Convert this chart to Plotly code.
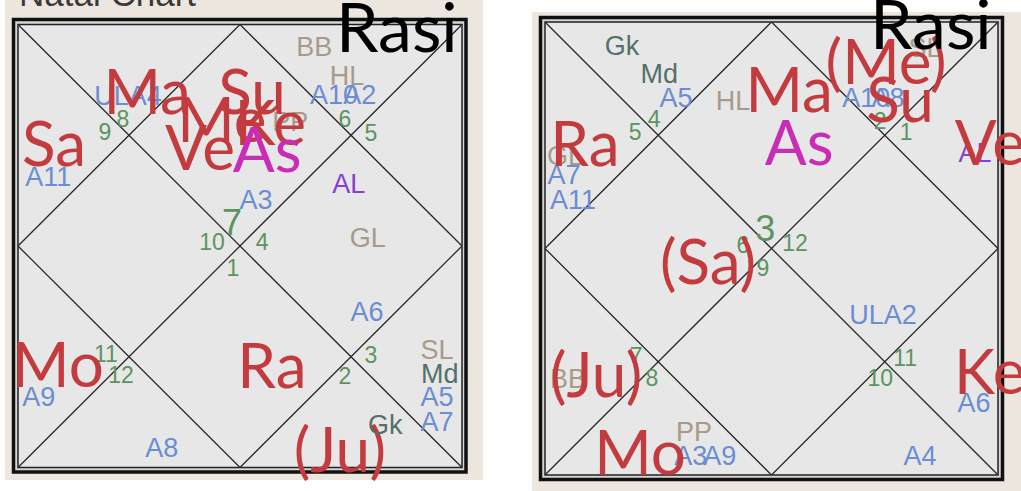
import plotly.graph_objects as go

W, H = 1021, 491

# ---------------- data: left chart (Natal / Rasi) ----------------
L_PLANETS = ["Ma", "Su", "Me", "Ke", "Ve", "Sa", "Mo", "Ra", "(Ju)"]
L_PLANETS_U = [29.1, 52.7, 45.9, 56.8, 41.0, 8.1, 9.0, 57.2, 72.5]
L_PLANETS_V = [15.2, 15.2, 21.6, 22.2, 27.9, 27.0, 76.9, 77.1, 96.1]

L_LAGNA = ["As"]
L_LAGNA_U = [56.1]
L_LAGNA_V = [28.3]

L_ARUDHA = ["ULA4", "A11", "A10", "A2", "A3", "A6", "A9", "A5", "A7", "A8"]
L_ARUDHA_U = [24.8, 6.8, 71.2, 77.0, 53.6, 78.6, 4.7, 94.4, 94.4, 32.4]
L_ARUDHA_V = [16.1, 34.4, 15.9, 15.9, 39.6, 64.7, 84.1, 84.1, 89.7, 95.6]

L_SPECIAL = ["PP", "BB", "HL", "GL", "SL"]
L_SPECIAL_U = [61.3, 66.7, 74.1, 78.8, 94.4]
L_SPECIAL_V = [22.0, 4.9, 11.6, 48.0, 73.3]

L_AL = ["AL"]
L_AL_U = [74.5]
L_AL_V = [36.0]

L_UPA = ["Md", "Gk"]
L_UPA_U = [95.0, 82.7]
L_UPA_V = [78.7, 90.4]

L_HOUSE = ["8", "9", "6", "5", "10", "4", "1", "11", "12", "3", "2"]
L_HOUSE_U = [23.6, 19.6, 73.6, 79.5, 43.7, 55.0, 48.4, 19.8, 23.2, 79.5, 73.6]
L_HOUSE_V = [21.3, 24.3, 21.3, 24.5, 49.1, 49.1, 55.0, 74.4, 79.1, 74.6, 79.3]
L_ASC_SIGN = ["7"]
L_ASC_U = [48.2]
L_ASC_V = [45.0]

# ---------------- data: right chart ----------------
R_PLANETS = ["(Me)", "Su", "Ma", "Ra", "Ve", "(Sa)", "(Ju)", "Ke", "Mo"]
R_PLANETS_U = [75.3, 78.4, 53.9, 8.8, 98.2, 36.0, 11.3, 98.2, 21.0]
R_PLANETS_V = [8.8, 17.2, 15.0, 26.9, 26.7, 53.0, 77.9, 77.3, 95.1]

R_LAGNA = ["As"]
R_LAGNA_U = [56.1]
R_LAGNA_V = [26.7]

R_ARUDHA = ["A5", "A10", "A8", "A7", "A11", "ULA2", "A6", "A3", "A9", "A4"]
R_ARUDHA_U = [28.9, 70.9, 75.7, 4.2, 6.2, 74.6, 94.7, 32.2, 38.6, 82.8]
R_ARUDHA_V = [16.6, 16.6, 16.6, 33.6, 39.1, 64.5, 84.1, 95.6, 95.6, 95.6]

R_SPECIAL = ["SL", "HL", "GL", "BB", "PP"]
R_SPECIAL_U = [83.9, 41.5, 4.4, 5.1, 32.9]
R_SPECIAL_V = [5.7, 17.4, 29.4, 78.6, 90.5]

R_AL = ["AL"]
R_AL_U = [94.9]
R_AL_V = [28.9]

R_UPA = ["Gk", "Md"]
R_UPA_U = [17.0, 25.2]
R_UPA_V = [5.1, 11.3]

R_HOUSE = ["2", "1", "5", "4", "6", "12", "9", "11", "10", "7", "8"]
R_HOUSE_U = [74.0, 79.7, 19.9, 24.1, 43.7, 55.2, 48.1, 79.5, 74.0, 20.1, 23.6]
R_HOUSE_V = [21.9, 24.3, 24.3, 21.4, 49.2, 48.8, 54.3, 74.2, 78.6, 73.7, 78.6]
R_ASC_SIGN = ["3"]
R_ASC_U = [48.6]
R_ASC_V = [45.9]

TITLE = "Natal Chart"
CHART_NAME = "Rasi"

# ---------------- styles ----------------
RED = "#c33b3f"
MAGENTA = "#c92db5"
BLUE = "#6b8dd2"
TAN = "#a89a8b"
PURPLE = "#8840d0"
SLATE = "#55706a"
GREEN = "#5b9460"
LINE = "#2a2a2a"
BEIGE = "#ede6de"
BOX = "#e7e7e7"

BIG_FONT = "Lato, Arial, sans-serif"
SANS = "Arial, Liberation Sans, sans-serif"


def px(x):
    return x / W


def py(y):
    return 1 - y / H


fig = go.Figure()

# chart boxes (pixel geometry of the inner square)
boxes = {
    "left": dict(x0=18, y0=24.5, x1=462, y1=467.5, ox0=13.5, oy0=19.5, ox1=466, oy1=472),
    "right": dict(x0=545, y0=22, x1=998, y1=475, ox0=540.5, oy0=17.5, ox1=1002.5, oy1=479.5),
}

shapes = []
# beige panels
shapes.append(dict(type="rect", xref="paper", yref="paper", x0=px(5), x1=px(483), y0=py(480), y1=py(0),
                   fillcolor=BEIGE, line=dict(width=0), layer="below"))
shapes.append(dict(type="rect", xref="paper", yref="paper", x0=px(532), x1=px(1021), y0=py(491), y1=py(12),
                   fillcolor=BEIGE, line=dict(width=0), layer="below"))
for b in boxes.values():
    shapes.append(dict(type="rect", xref="paper", yref="paper", x0=px(b["ox0"]), x1=px(b["ox1"]),
                       y0=py(b["oy1"]), y1=py(b["oy0"]), fillcolor="#d6d6d6",
                       line=dict(color="#111", width=3.5), layer="below"))
    shapes.append(dict(type="rect", xref="paper", yref="paper", x0=px(b["x0"]), x1=px(b["x1"]),
                       y0=py(b["y1"]), y1=py(b["y0"]), fillcolor=BOX,
                       line=dict(color="#222", width=1.5), layer="below"))

# house lines (diagonals + inner diamond) in chart units
LINE_U = [0, 100, None, 0, 100, None, 50, 100, 50, 0, 50]
LINE_V = [0, 100, None, 100, 0, None, 0, 50, 100, 50, 0]


def add_text(xa, ya, labels, u, v, color, size, family, dv=0.0):
    # dv: small vertical nudge (chart units) to align the font's visual centre
    fig.add_trace(go.Scatter(x=u, y=[val + dv for val in v], text=labels, mode="text",
                             xaxis=xa, yaxis=ya,
                             textposition="middle center", cliponaxis=False, hoverinfo="skip",
                             showlegend=False,
                             textfont=dict(color=color, size=size, family=family)))


charts = [
    ("x", "y", L_HOUSE, L_HOUSE_U, L_HOUSE_V, L_ASC_SIGN, L_ASC_U, L_ASC_V,
     L_SPECIAL, L_SPECIAL_U, L_SPECIAL_V, L_ARUDHA, L_ARUDHA_U, L_ARUDHA_V,
     L_AL, L_AL_U, L_AL_V, L_PLANETS, L_PLANETS_U, L_PLANETS_V,
     L_LAGNA, L_LAGNA_U, L_LAGNA_V, L_UPA, L_UPA_U, L_UPA_V),
    ("x2", "y2", R_HOUSE, R_HOUSE_U, R_HOUSE_V, R_ASC_SIGN, R_ASC_U, R_ASC_V,
     R_SPECIAL, R_SPECIAL_U, R_SPECIAL_V, R_ARUDHA, R_ARUDHA_U, R_ARUDHA_V,
     R_AL, R_AL_U, R_AL_V, R_PLANETS, R_PLANETS_U, R_PLANETS_V,
     R_LAGNA, R_LAGNA_U, R_LAGNA_V, R_UPA, R_UPA_U, R_UPA_V),
]

for (xa, ya, hl, hu, hv, al_, au, av, sl, su, sv, ar, aru, arv,
     pl, plu, plv, pn, pnu, pnv, lg, lgu, lgv, up, upu, upv) in charts:
    fig.add_trace(go.Scatter(x=LINE_U, y=LINE_V, mode="lines", xaxis=xa, yaxis=ya,
                             line=dict(color=LINE, width=1.3), hoverinfo="skip", showlegend=False))
    add_text(xa, ya, hl, hu, hv, GREEN, 23, SANS, 0.5)
    add_text(xa, ya, al_, au, av, GREEN, 36, SANS, 0.5)
    add_text(xa, ya, sl, su, sv, TAN, 27, SANS, 0.6)
    add_text(xa, ya, ar, aru, arv, BLUE, 27, SANS, 0.6)
    add_text(xa, ya, pl, plu, plv, PURPLE, 27, SANS, 0.6)
    add_text(xa, ya, pn, pnu, pnv, RED, 62, BIG_FONT, 1.4)
    add_text(xa, ya, lg, lgu, lgv, MAGENTA, 62, BIG_FONT, 1.4)
    add_text(xa, ya, up, upu, upv, SLATE, 27, SANS, 0.6)

annotations = [
    dict(text=TITLE, xref="paper", yref="paper", x=px(17), y=py(-6.5), xanchor="left", yanchor="middle",
         showarrow=False, font=dict(size=35, color="#3a3a3a", family=SANS)),
    dict(text=CHART_NAME, xref="paper", yref="paper", x=px(397), y=py(26), xanchor="center",
         yanchor="middle", showarrow=False, font=dict(size=68, color="#000", family=BIG_FONT)),
    dict(text=CHART_NAME, xref="paper", yref="paper", x=px(931), y=py(22), xanchor="center",
         yanchor="middle", showarrow=False, font=dict(size=68, color="#000", family=BIG_FONT)),
]

ax = dict(visible=False, range=[0, 100], fixedrange=True)
ayv = dict(visible=False, range=[100, 0], fixedrange=True)
lb, rb = boxes["left"], boxes["right"]
fig.update_layout(
    width=W, height=H, margin=dict(l=0, r=0, t=0, b=0),
    paper_bgcolor="white", plot_bgcolor="rgba(0,0,0,0)",
    shapes=shapes, annotations=annotations,
    xaxis=dict(ax, domain=[px(lb["x0"]), px(lb["x1"])]),
    yaxis=dict(ayv, domain=[py(lb["y1"]), py(lb["y0"])]),
    xaxis2=dict(ax, domain=[px(rb["x0"]), px(rb["x1"])]),
    yaxis2=dict(ayv, domain=[py(rb["y1"]), py(rb["y0"])]),
)

fig.write_html("out.html", config={"displayModeBar": False},
               post_script="document.body.style.margin='0';")
